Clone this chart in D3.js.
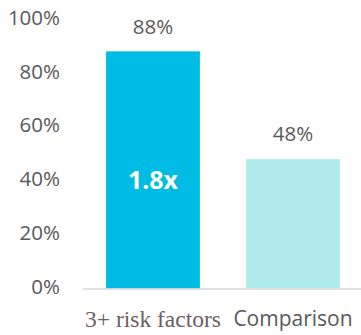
<!DOCTYPE html>
<html>
<head>
<meta charset="utf-8">
<script src="https://cdn.jsdelivr.net/npm/d3@7"></script>
<style>
  body { margin: 0; background: #fff; }
  svg { display: block; }
</style>
</head>
<body>
<svg id="chart"></svg>
<script>
// Chart data
const categories = ["3+ risk factors", "Comparison"];
const values = [88, 48];
const barColors = ["#00BCE4", "#B0EBEB"];
const tickValues = [0, 20, 40, 60, 80, 100];
const ratioLabel = "1.8x";

const width = 361, height = 335;
const svg = d3.select("#chart").attr("width", width).attr("height", height);

const y = d3.scaleLinear().domain([0, 100]).range([288.5, 19]);
const x = d3.scaleBand()
    .domain(categories)
    .range([83, 363])
    .paddingInner(0.33)
    .paddingOuter(0.165);

// y tick labels (no axis line)
svg.append("g")
   .selectAll("text")
   .data(tickValues)
   .enter()
   .append("text")
   .attr("x", 60)
   .attr("y", d => y(d) - 1.5)
   .attr("dy", "0.35em")
   .attr("text-anchor", "end")
   .attr("fill", "#595959")
   .style("font", "20.5px 'Open Sans', sans-serif")
   .text(d => d + "%");

// bars
svg.append("g")
   .selectAll("rect")
   .data(values)
   .enter()
   .append("rect")
   .attr("x", (d, i) => x(categories[i]))
   .attr("y", d => y(d))
   .attr("width", x.bandwidth())
   .attr("height", d => y(0) - y(d))
   .attr("fill", (d, i) => barColors[i]);

// baseline
svg.append("line")
   .attr("x1", 83).attr("x2", width)
   .attr("y1", y(0) + 0.5).attr("y2", y(0) + 0.5)
   .attr("stroke", "#d9d9d9")
   .attr("stroke-width", 1.5);

// value labels
svg.append("g")
   .selectAll("text")
   .data(values)
   .enter()
   .append("text")
   .attr("x", (d, i) => x(categories[i]) + x.bandwidth() / 2)
   .attr("y", d => y(d) - 25)
   .attr("dy", "0.35em")
   .attr("text-anchor", "middle")
   .attr("fill", "#595959")
   .style("font", "20.5px 'Open Sans', sans-serif")
   .text(d => d + "%");

// ratio label inside first bar
svg.append("text")
   .attr("x", x(categories[0]) + x.bandwidth() / 2)
   .attr("y", 180)
   .attr("dy", "0.35em")
   .attr("text-anchor", "middle")
   .attr("fill", "#fff")
   .style("font", "bold 25px 'Open Sans', sans-serif")
   .text(ratioLabel);

// category labels
svg.append("text")
   .attr("x", x(categories[0]) + x.bandwidth() / 2)
   .attr("y", 319)
   .attr("dy", "0.35em")
   .attr("text-anchor", "middle")
   .attr("fill", "#6a5f5f")
   .style("font", "23.5px 'Liberation Serif', 'DejaVu Serif', serif")
   .text(categories[0]);

svg.append("text")
   .attr("x", x(categories[1]) + x.bandwidth() / 2)
   .attr("y", 319)
   .attr("dy", "0.35em")
   .attr("text-anchor", "middle")
   .attr("fill", "#595959")
   .style("font", "21px 'Open Sans', sans-serif")
   .text(categories[1]);
</script>
</body>
</html>
